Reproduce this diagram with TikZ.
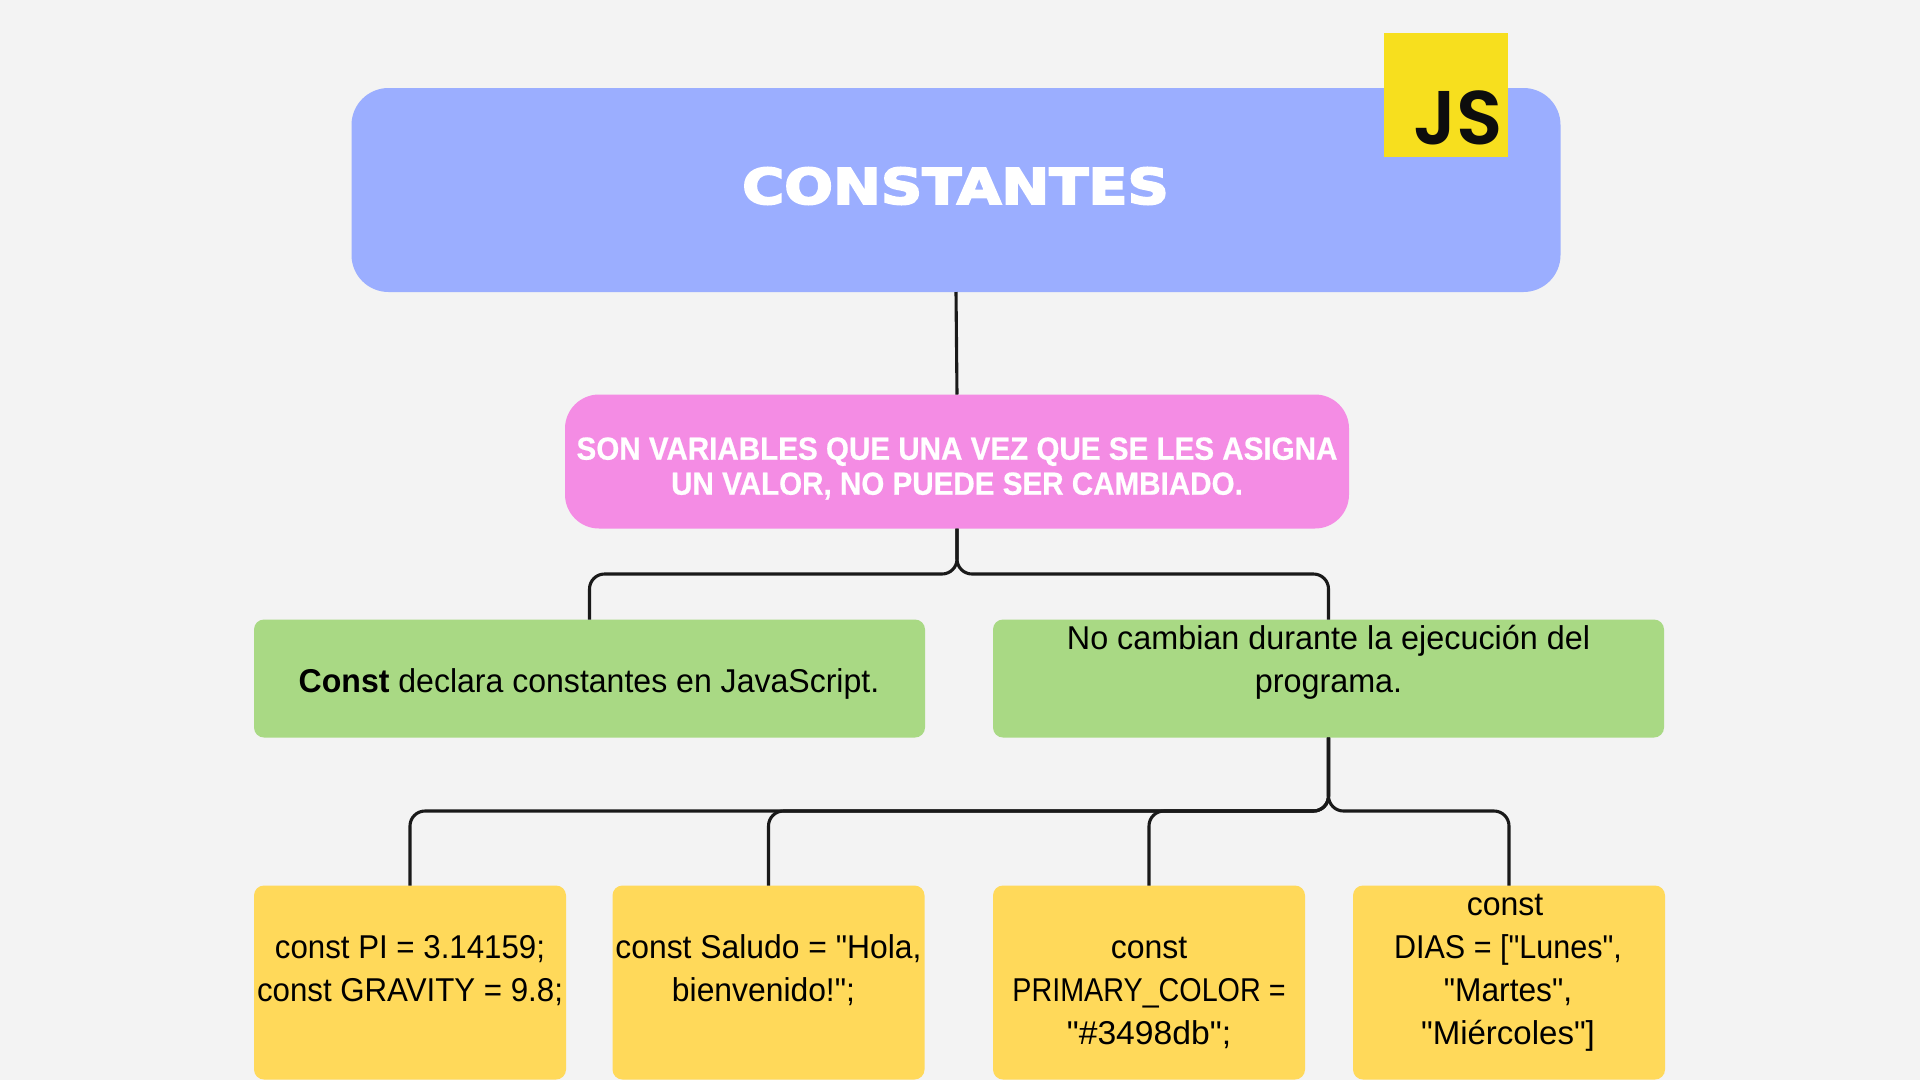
\documentclass[tikz,border=0pt]{standalone}
\usepackage{graphicx}
\usepackage{fontspec}
\setmainfont[Ligatures=TeXOff]{Liberation Sans}
\newfontfamily\pinkfont[FakeStretch=0.925,FakeBold=0.6]{Liberation Sans Bold}
\newfontfamily\titlefont[FakeStretch=1.17,FakeBold=4]{DejaVu Sans Bold}
\newfontfamily\jsfont{Poppins SemiBold}
\newcommand{\hs}[2]{\scalebox{#1}[1]{#2}}
\tikzset{
  x=1pt,y=-1pt,
  boxbase/.style={inner sep=0pt,outer sep=0pt,anchor=north west},
  titlebox/.style={boxbase,fill=titleblue,rounded corners=37pt},
  pinkbox/.style={boxbase,fill=pinkfill,rounded corners=34pt},
  greenbox/.style={boxbase,fill=greenfill,rounded corners=10pt},
  yellowbox/.style={boxbase,fill=yellowfill,rounded corners=10pt},
  conn/.style={draw=black!90,line width=3.1pt,rounded corners=15pt},
  body/.style={inner sep=0pt,align=center,font=\fontsize{33}{43}\selectfont,text=black},
}
\definecolor{bgc}{HTML}{F3F3F3}
\definecolor{titleblue}{HTML}{9BAEFF}
\definecolor{pinkfill}{HTML}{F48CE4}
\definecolor{greenfill}{HTML}{A9D984}
\definecolor{yellowfill}{HTML}{FFD95A}
\definecolor{jsyellow}{HTML}{F7DF1E}
\begin{document}
\begin{tikzpicture}
\useasboundingbox (0,0) rectangle (1920,1080);
\fill[bgc] (0,0) rectangle (1920,1080);
% boxes
\node[titlebox,minimum width=1209pt,minimum height=204pt] (title) at (351.5,88) {};
\node[pinkbox,minimum width=784pt,minimum height=134pt] (pink) at (565,394.5) {};
\node[greenbox,minimum width=671pt,minimum height=118pt] (g1) at (254,619.5) {};
\node[greenbox,minimum width=671pt,minimum height=118pt] (g2) at (993,619.5) {};
\node[yellowbox,minimum width=312pt,minimum height=194pt] (y1) at (254,885.5) {};
\node[yellowbox,minimum width=312pt,minimum height=194pt] (y2) at (612.5,885.5) {};
\node[yellowbox,minimum width=312pt,minimum height=194pt] (y3) at (993,885.5) {};
\node[yellowbox,minimum width=312pt,minimum height=194pt] (y4) at (1353,885.5) {};
\coordinate (busa) at (0,574);
\coordinate (busb) at (0,811);
% connectors
\draw[conn] (title.south) -- (pink.north);
\draw[conn] (pink.south) -- (pink.south |- busa) -- (g1.north |- busa) -- (g1.north);
\draw[conn] (pink.south) -- (pink.south |- busa) -- (g2.north |- busa) -- (g2.north);
\draw[conn] (g2.south) -- (g2.south |- busb) -- (y1.north |- busb) -- (y1.north);
\draw[conn] (g2.south) -- (g2.south |- busb) -- (y2.north |- busb) -- (y2.north);
\draw[conn] (g2.south) -- (g2.south |- busb) -- (y3.north |- busb) -- (y3.north);
\draw[conn] (g2.south) -- (g2.south |- busb) -- (y4.north |- busb) -- (y4.north);
% JS badge
\node[boxbase,fill=jsyellow,minimum width=124pt,minimum height=124pt] (jsbox) at (1383.5,32.5) {};
\node[font=\jsfont\fontsize{76}{76}\selectfont,text=black!95,inner sep=0pt] (jstxt) at (1458,118) {JS};
% texts
\node[font=\titlefont\fontsize{49}{49}\selectfont,text=white,inner sep=0pt] (ttitle) at (955.5,186) {CONSTANTES};
\node[body,font=\pinkfont\fontsize{32}{35}\selectfont,text=white] (tpink) at (957,468.5) {SON VARIABLES QUE UNA VEZ QUE SE LES ASIGNA\\UN VALOR, NO PUEDE SER CAMBIADO.};
\node[body] (tg1) at (589,684) {\hs{0.971}{\textbf{Const} declara constantes en JavaScript.}};
\node[body] (tg2) at (1328.5,662.5) {\hs{0.98}{No cambian durante la ejecución del}\\\hs{0.98}{programa.}};
\node[body] (ty1) at (410,971) {\hs{0.947}{const PI = 3.14159;}\\\hs{0.947}{const GRAVITY = 9.8;}};
\node[body] (ty2) at (768.5,970.5) {\hs{0.965}{const Saludo = "Hola,}\\\hs{0.965}{bienvenido!";}\hspace*{10pt}};
\node[body] (ty3) at (1149,993) {\hs{0.97}{const}\\\hs{0.87}{PRIMARY\_COLOR =}\\\hs{1.02}{"\#3498db";}};
\node[body] (ty4) at (1508,973) {\hs{0.97}{const}\hspace*{6pt}\\\hs{0.925}{DIAS = ["Lunes",}\\\hs{0.96}{"Martes",}\\\hs{1.0}{"Miércoles"]}};
\end{tikzpicture}
\end{document}
